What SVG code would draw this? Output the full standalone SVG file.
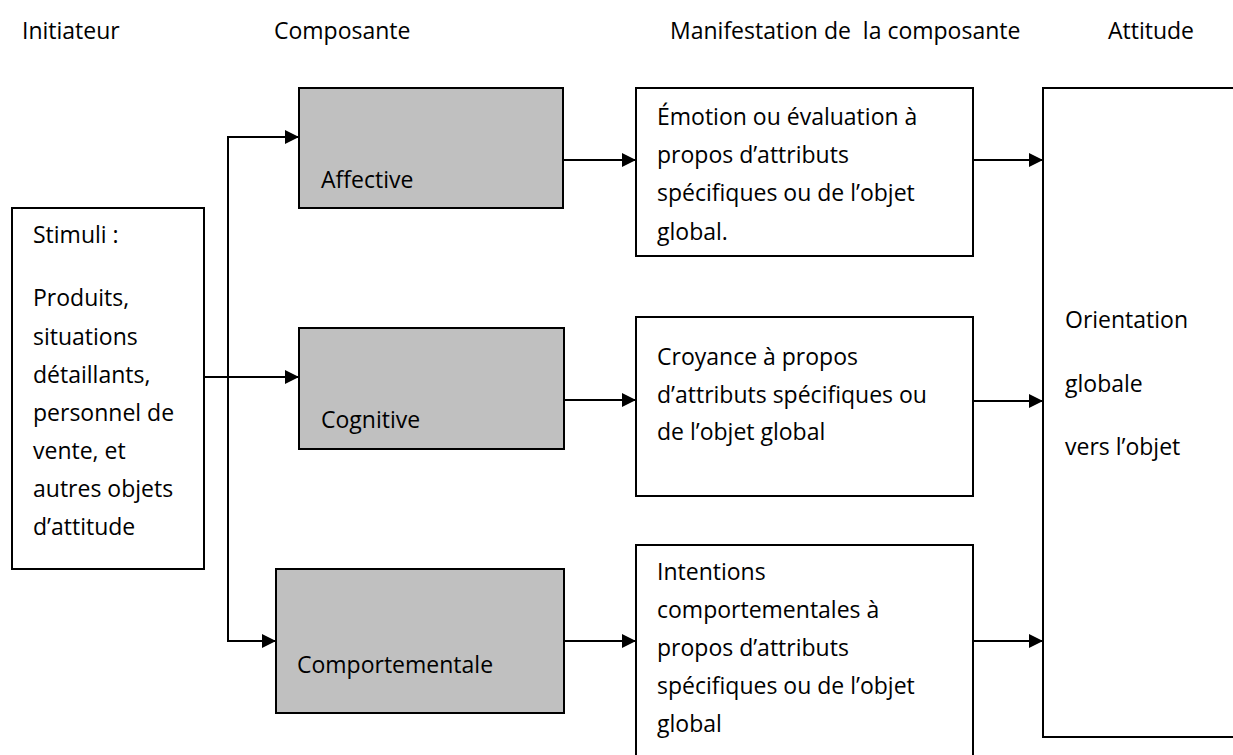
<svg xmlns="http://www.w3.org/2000/svg" width="1233" height="755" viewBox="0 0 1233 755">
<style>
text{font-family:"Open Sans","Liberation Sans",sans-serif;font-size:23px;fill:#000;}
.box{fill:#fff;stroke:#000;stroke-width:2;}
.grey{fill:#c0c0c0;stroke:#000;stroke-width:2;}
.ln{fill:none;stroke:#000;stroke-width:2;}
.pre{white-space:pre;}
</style>
<defs>
<marker id="ah" markerUnits="userSpaceOnUse" markerWidth="15" markerHeight="14" refX="14" refY="7" orient="auto">
<path d="M0,0 L14,7 L0,14 Z" fill="#000"/>
</marker>
</defs>
<g id="headers">
<text x="22" y="39">Initiateur</text>
<text x="274" y="39">Composante</text>
<text x="670" y="39" class="pre" xml:space="preserve">Manifestation de  la composante</text>
<text x="1108" y="39">Attitude</text>
</g>
<g id="connectors">
<path class="ln" d="M204,377 H299" marker-end="url(#ah)"/>
<path class="ln" d="M276,641 H228 V137 H299" marker-end="url(#ah)"/>
<path class="ln" d="M228,641 H276" marker-end="url(#ah)"/>
<path class="ln" d="M563,160 H636" marker-end="url(#ah)"/>
<path class="ln" d="M564,400 H636" marker-end="url(#ah)"/>
<path class="ln" d="M564,641 H636" marker-end="url(#ah)"/>
<path class="ln" d="M973,160 H1043" marker-end="url(#ah)"/>
<path class="ln" d="M973,401 H1043" marker-end="url(#ah)"/>
<path class="ln" d="M973,641 H1043" marker-end="url(#ah)"/>
</g>
<g id="stimuli">
<rect class="box" x="12" y="208" width="192" height="361"/>
<text x="33" y="243">Stimuli :</text>
<text x="33" y="306">Produits,</text>
<text x="33" y="345">situations</text>
<text x="33" y="383">détaillants,</text>
<text x="33" y="421">personnel de</text>
<text x="33" y="459">vente, et</text>
<text x="33" y="497">autres objets</text>
<text x="33" y="535">d’attitude</text>
</g>
<g id="affective">
<rect class="grey" x="299" y="88" width="264" height="120"/>
<text x="321" y="188">Affective</text>
</g>
<g id="cognitive">
<rect class="grey" x="299" y="328" width="265" height="121"/>
<text x="321" y="428">Cognitive</text>
</g>
<g id="comportementale">
<rect class="grey" x="276" y="569" width="288" height="144"/>
<text x="297" y="673">Comportementale</text>
</g>
<g id="emotion">
<rect class="box" x="636" y="88" width="337" height="168"/>
<text x="657" y="125">Émotion ou évaluation à</text>
<text x="657" y="163">propos d’attributs</text>
<text x="657" y="201">spécifiques ou de l’objet</text>
<text x="657" y="240">global.</text>
</g>
<g id="croyance">
<rect class="box" x="636" y="317" width="337" height="179"/>
<text x="657" y="365">Croyance à propos</text>
<text x="657" y="403">d’attributs spécifiques ou</text>
<text x="657" y="440">de l’objet global</text>
</g>
<g id="intentions">
<rect class="box" x="636" y="545" width="337" height="220"/>
<text x="657" y="580">Intentions</text>
<text x="657" y="618">comportementales à</text>
<text x="657" y="656">propos d’attributs</text>
<text x="657" y="694">spécifiques ou de l’objet</text>
<text x="657" y="732">global</text>
</g>
<g id="attitude">
<rect class="box" x="1043" y="88" width="210" height="649"/>
<text x="1065" y="328">Orientation</text>
<text x="1065" y="392">globale</text>
<text x="1065" y="455">vers l’objet</text>
</g>
</svg>
